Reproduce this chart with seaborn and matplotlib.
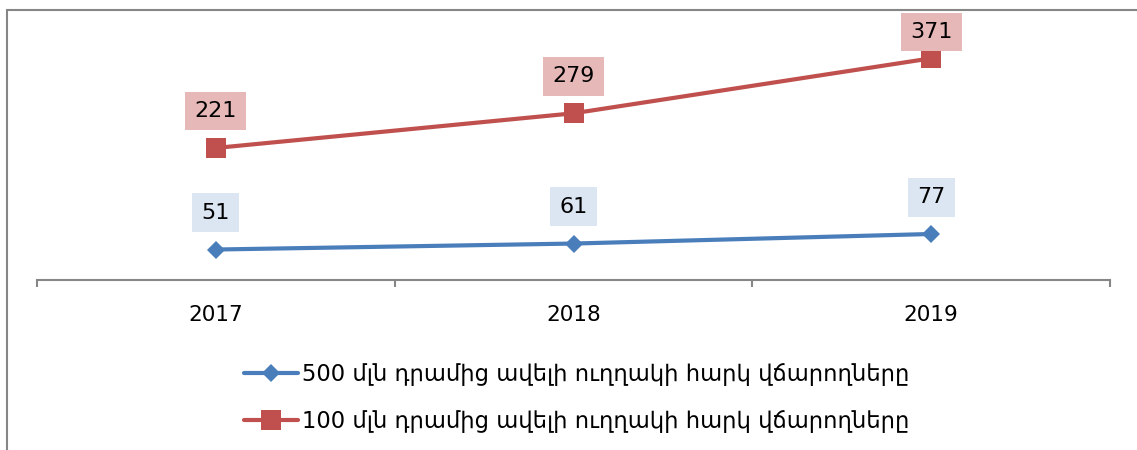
import pandas as pd
import seaborn as sns
from matplotlib import pyplot as plt
from matplotlib.patches import Rectangle

years = ["2017", "2018", "2019"]
over_500 = [51, 61, 77]
over_100 = [221, 279, 371]
label_500 = "500 մլն դրամից ավելի ուղղակի հարկ վճարողները"
label_100 = "100 մլն դրամից ավելի ուղղակի հարկ վճարողները"

blue, red = "#4A7EBB", "#C0504D"
blue_box, red_box = "#DCE6F2", "#E6B9B8"
grey = "#868686"

sns.set_style("white")
plt.rcParams["font.family"] = ["DejaVu Sans"]
plt.rcParams["text.color"] = "black"
plt.rcParams["xtick.color"] = "black"

df = pd.DataFrame({"year": years * 2,
                   "value": over_500 + over_100,
                   "series": [label_500] * 3 + [label_100] * 3})
df["pos"] = [0, 1, 2] * 2

fig = plt.figure(figsize=(11.37, 4.5), dpi=100)
ax = fig.add_axes([37 / 1137, 1 - 280 / 450, (1110 - 37) / 1137, (280 - 41) / 450])

styles = {label_500: (blue, "D", 9.5, blue_box),
          label_100: (red, "s", 14, red_box)}
for name, (color, marker, ms, box) in styles.items():
    sub = df[df["series"] == name]
    sns.lineplot(data=sub, x="pos", y="value", ax=ax, color=color, marker=marker,
                 markersize=ms, markeredgewidth=0, linewidth=3, label=name)
    for x, y in zip(sub["pos"], sub["value"]):
        # labels near the top are pushed down to stay inside the chart frame
        off = 26.5 if y < 350 else 19
        ax.annotate(str(y), (x, y), xytext=(0, off), textcoords="offset points",
                    ha="center", va="center", fontsize=16,
                    bbox=dict(boxstyle="square,pad=0.42", fc=box, ec="none"))

ax.set_xlim(-0.5, 2.5)
ax.set_ylim(0, 400)
ax.set_xlabel("")
ax.set_ylabel("")
ax.set_yticks([])
ax.set_xticks([-0.5, 0.5, 1.5, 2.5])
ax.set_xticklabels([])
ax.set_xticks([0, 1, 2], minor=True)
ax.set_xticklabels(years, minor=True, fontsize=15.5)
ax.tick_params(axis="x", which="major", direction="out", length=5, width=1.5,
               color=grey, bottom=True)
ax.tick_params(axis="x", which="minor", length=0, pad=18)
for side in ["top", "right", "left"]:
    ax.spines[side].set_visible(False)
ax.spines["bottom"].set_color(grey)
ax.spines["bottom"].set_linewidth(1.5)

ax.get_legend().remove()
handles, labels = ax.get_legend_handles_labels()
fig.legend(handles, labels, loc="upper left", bbox_to_anchor=(244 / 1137, 1 - 363 / 450),
           frameon=False, fontsize=16.3, handlelength=2.4, handletextpad=0.15,
           labelspacing=1.05, borderpad=0, borderaxespad=0)

fig.patches.append(Rectangle((7 / 1137, -0.1), 1.2, 1 - 10 / 450 + 0.1,
                             transform=fig.transFigure, fill=False, ec=grey, lw=1.5))

fig.savefig("out.png", dpi=100)
